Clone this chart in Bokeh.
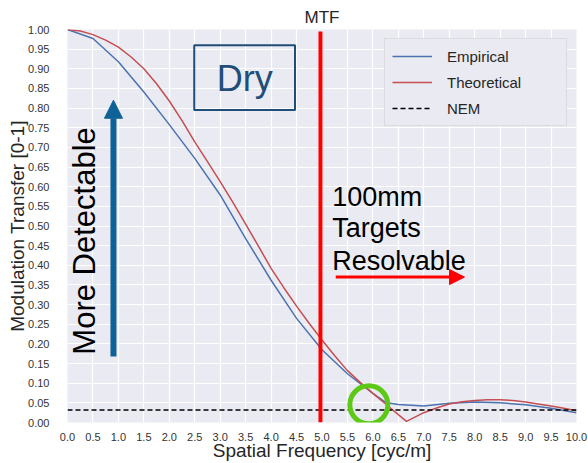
from bokeh.plotting import figure
from bokeh.embed import file_html
from bokeh.resources import INLINE
from bokeh.core.properties import value
from bokeh.models import (Arrow, NormalHead, FixedTicker, PrintfTickFormatter,
                          Legend, LegendItem)
import math

# ---------------- data ----------------
freq_emp = [0.0, 0.5, 1.0, 1.5, 2.0, 2.5, 3.0, 3.5, 4.0, 4.5, 5.0,
            5.5, 6.0, 6.25, 6.5, 7.0, 7.5, 8.0, 8.5, 9.0, 9.5, 10.0]
mtf_emp = [1.000, 0.977, 0.918, 0.841, 0.758, 0.672, 0.579, 0.468, 0.362, 0.265, 0.185,
           0.124, 0.074, 0.051, 0.046, 0.042, 0.049, 0.052, 0.050, 0.045, 0.036, 0.025]

freq_theo = [0.0, 0.25, 0.5, 0.75, 1.0, 1.25, 1.5, 1.75, 2.0, 2.25, 2.5, 2.75, 3.0,
             3.25, 3.5, 3.75, 4.0, 4.25, 4.5, 4.75, 5.0, 5.25, 5.5, 5.75,
             6.0, 6.25, 6.5, 6.66, 7.0, 7.25, 7.5, 7.75, 8.0, 8.25, 8.5, 8.75,
             9.0, 9.25, 9.5, 9.75, 10.0]
mtf_theo = [1.000, 0.996, 0.987, 0.973, 0.955, 0.930, 0.900, 0.862, 0.818, 0.768, 0.714, 0.664, 0.613,
            0.560, 0.505, 0.449, 0.392, 0.343, 0.296, 0.252, 0.210, 0.170, 0.132, 0.102,
            0.074, 0.047, 0.020, 0.003, 0.025, 0.037, 0.047, 0.053, 0.056, 0.058, 0.058, 0.056,
            0.052, 0.047, 0.042, 0.036, 0.030]

nem_x = [0.0, 10.0]
nem_y = [0.032, 0.032]

x_ticks = [i * 0.5 for i in range(21)]
y_ticks = [i * 0.05 for i in range(21)]

FONT = "Liberation Sans"

p = figure(width=588, height=463, x_range=(0, 10), y_range=(0, 1),
           output_backend="svg", toolbar_location=None, title="MTF",
           min_border_left=67, min_border_right=12, min_border_top=29,
           min_border_bottom=40)

p.background_fill_color = "#EAEAF2"
p.border_fill_color = "white"
p.outline_line_color = None

p.title.align = "center"
p.title.text_font = FONT
p.title.text_font_size = "17px"
p.title.text_font_style = "normal"
p.title.text_color = "#262626"
p.title.standoff = 5

for ax in (p.xaxis[0], p.yaxis[0]):
    ax.axis_line_color = None
    ax.major_tick_line_color = None
    ax.minor_tick_line_color = None
    ax.major_label_text_font = FONT
    ax.major_label_text_font_size = "11px"
    ax.major_label_text_color = "#333333"
    ax.axis_label_text_font = FONT
    ax.axis_label_text_font_size = "19px"
    ax.axis_label_text_font_style = "normal"
    ax.axis_label_text_color = "#262626"

p.xaxis.ticker = FixedTicker(ticks=x_ticks)
p.yaxis.ticker = FixedTicker(ticks=y_ticks)
p.xaxis.formatter = PrintfTickFormatter(format="%.1f")
p.yaxis.formatter = PrintfTickFormatter(format="%.2f")
p.xaxis.axis_label = "Spatial Frequency [cyc/m]"
p.yaxis.axis_label = "Modulation Transfer [0-1]"
p.xaxis.major_label_standoff = 4
p.xaxis.axis_label_standoff = -4
p.yaxis.major_label_standoff = 12
p.yaxis.axis_label_standoff = -3

p.xgrid.ticker = FixedTicker(ticks=x_ticks)
p.ygrid.ticker = FixedTicker(ticks=y_ticks)
for g in (p.xgrid[0], p.ygrid[0]):
    g.grid_line_color = "white"
    g.grid_line_width = 1.2

r_emp = p.line(freq_emp, mtf_emp, line_color="#4C72B0", line_width=1.5)
r_theo = p.line(freq_theo, mtf_theo, line_color="#C44E52", line_width=1.5)
r_nem = p.line(nem_x, nem_y, line_color="black", line_width=1.5, line_dash="5 3")

# annotations
p.segment(x0=[4.97], y0=[0.0], x1=[4.97], y1=[0.995], line_color="#FF0000", line_width=4)
p.scatter(x=[5.92], y=[0.045], size=38, marker="circle", fill_color=None,
          line_color="#5DC917", line_width=5)

p.quad(left=[2.49], right=[4.47], bottom=[0.795], top=[0.960], fill_color=None,
       line_color="#1F4E79", line_width=2)
p.text(x=[3.48], y=[0.875], text=["Dry"], text_font=value(FONT), text_font_size="36px",
       text_color="#1F4E79", text_align="center", text_baseline="middle")

p.add_layout(Arrow(end=NormalHead(size=18, fill_color="#0E6298", line_color="#0E6298"),
                   x_start=0.903, y_start=0.168, x_end=0.903, y_end=0.82,
                   line_color="#0E6298", line_width=6))
p.text(x=[0.34], y=[0.462], text=["More Detectable"], angle=math.pi / 2,
       text_font=value(FONT), text_font_size="31px", text_color="black",
       text_align="center", text_baseline="middle")

for txt, yy in (("100mm", 0.575), ("Targets", 0.495), ("Resolvable", 0.410)):
    p.text(x=[5.2], y=[yy], text=[txt], text_font=value(FONT), text_font_size="27px",
           text_color="black", text_align="left", text_baseline="middle")

p.add_layout(Arrow(end=NormalHead(size=15, fill_color="#FF0000", line_color="#FF0000"),
                   x_start=5.27, y_start=0.37, x_end=7.80, y_end=0.37,
                   line_color="#FF0000", line_width=3))

legend = Legend(items=[LegendItem(label="Empirical", renderers=[r_emp]),
                       LegendItem(label="Theoretical", renderers=[r_theo]),
                       LegendItem(label="NEM", renderers=[r_nem])],
                location="top_right")
legend.margin = 9
legend.padding = 7
legend.spacing = 6
legend.glyph_width = 40
legend.label_standoff = 15
legend.label_width = 112
legend.label_text_font = FONT
legend.label_text_font_size = "15px"
legend.label_text_color = "#262626"
legend.background_fill_color = "#EAEAF2"
legend.background_fill_alpha = 1.0
legend.border_line_color = "#CCCCCC"
legend.border_line_width = 1
p.add_layout(legend, "center")

open("out.html", "w").write(file_html(p, INLINE))
